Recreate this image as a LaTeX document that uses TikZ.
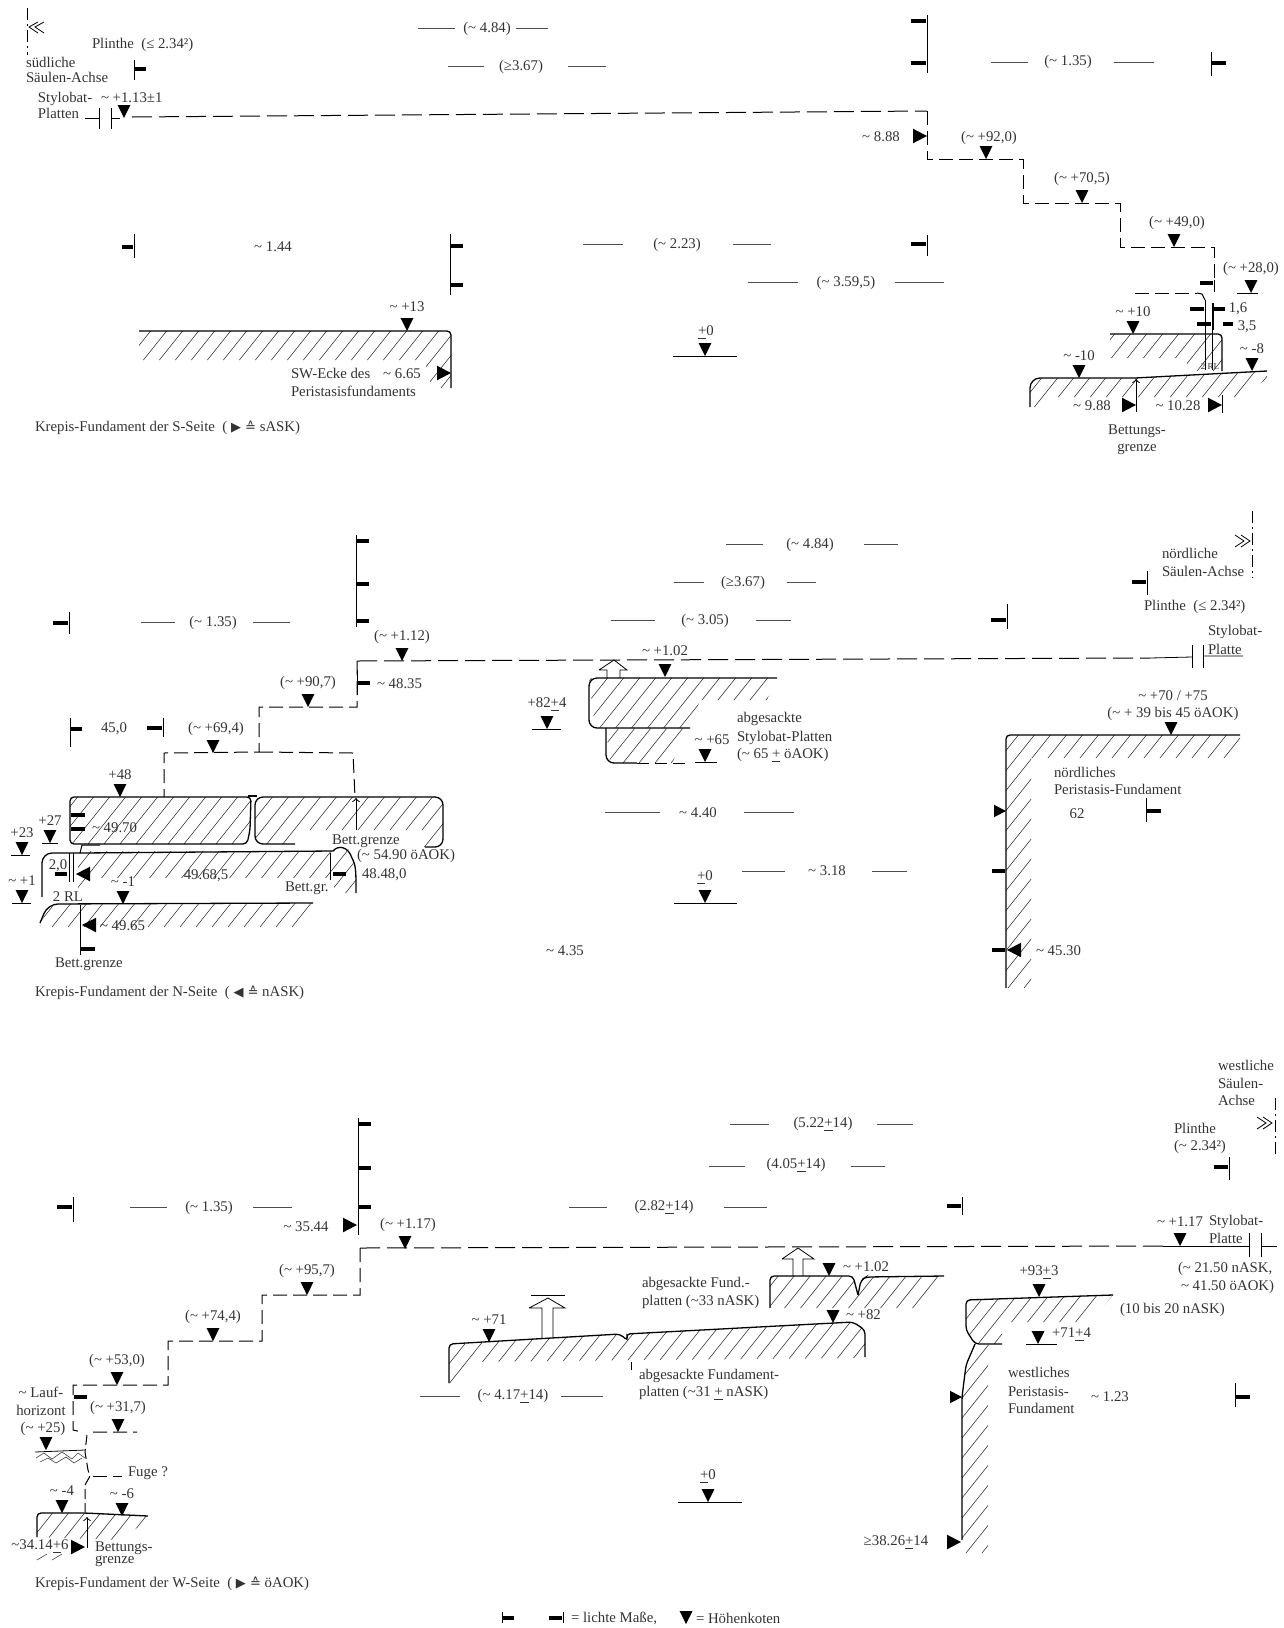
\documentclass[tikz,border=0pt]{standalone}
\usepackage{fontspec}
\setmainfont{Liberation Serif}
\newfontfamily\symb{DejaVu Sans}
\usepackage{tikz}
\usetikzlibrary{positioning,shapes.geometric,arrows}
\newcommand{\ca}{\textasciitilde\ }
\newcommand{\schraffur}[4]{%
  \begin{scope}
    \clip #1 -- cycle;
    \pgfmathsetmacro{\nxt}{#2+16}
    \foreach \s in {#2,\nxt,...,#3} \draw[schraffe] (\s,#4) -- ++(240,-300);
  \end{scope}}

\begin{document}
\begin{tikzpicture}[
  x=0.5pt,y=-0.5pt,
  node distance=2.5pt and 2.5pt,
  lbl/.style={inner sep=0pt,outer sep=0pt,yshift=-0.4pt,font=\fontsize{7.4}{8.5}\selectfont,text=black!80},
  lblw/.style={lbl,anchor=west},
  kote/.style={isosceles triangle,isosceles triangle apex angle=53,shape border rotate=-90,fill,inner sep=0pt,outer sep=0pt,minimum height=6.5pt,anchor=apex},
  gross/.style={isosceles triangle,isosceles triangle apex angle=55,fill,inner sep=0pt,outer sep=0pt,minimum height=7pt,anchor=apex},
  grossl/.style={gross,shape border rotate=180},
  tick/.style={line width=0.5pt},
  bar/.style={line width=1.6pt},
  kante/.style={line width=0.65pt,rounded corners=2pt},
  mass/.style={line width=0.4pt,black!70},
  schraffe/.style={line width=0.3pt,black!75},
  stufe/.style={line width=0.5pt,dash pattern=on 7pt off 3pt},
  fuge/.style={line width=0.5pt,dash pattern=on 10pt off 3.5pt},
  achse/.style={line width=0.4pt,dash pattern=on 6pt off 2pt on 1pt off 2pt}
]
\useasboundingbox (0,0) rectangle (1284,1628);

\draw[achse] (27,8) -- (27,55);
\draw (38,22) -- (29,27) -- (38,33) (44,22) -- (35,27) -- (44,33);
\node[lblw] (ts1) at (92,44) {Plinthe\ \ (≤ 2.34²)};
\node[lblw] (ts2) at (26,62) {südliche};
\node[lblw] (ts3) at (26,77) {Säulen-Achse};
\node[lblw] (ts4) at (38,98) {Stylobat-};
\node[lblw] (ts5) at (38,113) {Platten};
\node[lblw] (ts6) at (101,97) {\ca +1.13±1};
\node[kote] (ks1) at (124,118) {};
\draw (85,118) -- (99,118) (111,118) -- (120,118);
\draw[tick] (99,108) -- (99,129) (111,108) -- (111,129);

\draw[fuge] (132,117) -- (927,111);
\draw[stufe] (927,111) -- (927,159) -- (1023,159) -- (1023,203) -- (1120,203) -- (1120,247) -- (1214,247) -- (1214,292) (1135,293) -- (1197,293);
\draw[line width=0.5pt] (1197,293) -- (1202,294) -- (1205,300);

\node[lbl] (ts7) at (487,28) {(\ca 4.84)};
\node[lbl] (ts8) at (521,66) {(≥3.67)};
\node[lbl] (ts9) at (1068,61) {(\ca 1.35)};
\node[lbl] (ts10) at (677,244) {(\ca 2.23)};
\node[lbl] (ts11) at (846,282) {(\ca 3.59,5)};
\node[lbl] (ts12) at (273,246) {\ca 1.44};
\draw[mass] (418,28) -- (455,28) (516,28) -- (548,28) (448,66) -- (484,66) (568,66) -- (606,66)
  (991,62) -- (1028,62) (1114,62) -- (1154,62) (583,244) -- (623,244) (733,244) -- (771,244)
  (748,282) -- (798,282) (895,282) -- (944,282);

\draw[tick] (927,15) -- (927,73) (1211,52) -- (1211,76) (134,60) -- (134,80) (134,234) -- (134,258)
  (450,234) -- (450,295) (927,235) -- (927,256) (1214,280) -- (1214,292);
\draw[bar] (926,21) -- (911,21) (926,63) -- (911,63) (1212,63) -- (1226,63) (135,69) -- (146,69)
  (133,247) -- (122,247) (451,246) -- (463,246) (451,285) -- (463,285) (926,244) -- (911,244)
  (1213,283) -- (1200,283);

\node[lbl] (ts13) at (881,136) {\ca 8.88};
\node[gross] (gs1) at (927,136) {};
\node[kote] (ks2) at (986,159) {};
\node[lbl,above=of ks2,xshift=1.5pt,yshift=-1.5pt] (ls2) {(\ca +92,0)};
\node[kote] (ks3) at (1082,203) {};
\node[lbl,above=of ks3] (ls3) {(\ca +70,5)};
\node[kote] (ks4) at (1174,247) {};
\node[lbl,above=of ks4,xshift=1.5pt] (ls4) {(\ca +49,0)};
\node[kote] (ks5) at (1251,293) {};
\node[lbl,above=of ks5] (ls5) {(\ca +28,0)};
\draw (1237,293) -- (1258,293);

\schraffur{(139,331) -- (447,331) -- (451,335) -- (451,388) -- (432,388) -- (424,360) -- (139,360)}{105}{451}{388}
\draw[kante] (139,331) -- (451,331) -- (451,388);
\node[kote] (ks6) at (407,331) {};
\node[lbl,above=of ks6,yshift=1pt] (ls6) {\ca +13};
\node[lblw] (ts14) at (291,373) {SW-Ecke des};
\node[lbl] (ts15) at (402,373) {\ca 6.65};
\node[lblw] (ts16) at (291,391) {Peristasisfundaments};
\node[gross] (gs2) at (451,373) {};
\node[lblw] (ts17) at (35,427) {Krepis-Fundament der S-Seite\ \ ( {\symb\fontsize{6.5}{7}\selectfont ▶ ≙} sASK)};

\node[lbl] (ts18) at (706,332) {\underline{+}0};
\node[kote] (ks7) at (705,356) {};
\draw (673,356) -- (737,356);

\schraffur{(1110,334) -- (1218,334) -- (1222,338) -- (1222,371) -- (1190,371) -- (1185,358) -- (1110,358)}{1085}{1222}{371}
\draw[kante] (1110,334) -- (1222,334) -- (1222,371);
\schraffur{(1030,407) -- (1030,385) -- (1040,378) -- (1135,378) -- (1267,371) -- (1267,378) -- (1245,397) -- (1050,397) -- (1040,407)}{1000}{1267}{410}
\draw[kante,rounded corners=5pt] (1030,407) -- (1030,378) -- (1135,378);
\draw[line width=0.65pt] (1135,378) -- (1267,371);
\draw[tick] (1205,300) -- (1205,370) (1212,303) -- (1212,370) (1213,303) -- (1213,330);
\draw[bar] (1190,309) -- (1204,309) (1214,309) -- (1225,309) (1197,324) -- (1211,324) (1223,324) -- (1233,324);
\node[lbl] (ts19) at (1238,308) {1,6};
\node[lbl] (ts20) at (1247,326) {3,5};
\node[lbl,font=\fontsize{4.5}{5}\selectfont] (ts21) at (1210,366) {2 RL};
\node[kote] (ks8) at (1133,334) {};
\node[lbl,above=of ks8] (ls8) {\ca +10};
\node[kote] (ks9) at (1079,378) {};
\node[lbl,above=of ks9] (ls9) {\ca -10};
\node[kote] (ks10) at (1252,371) {};
\node[lbl,above=of ks10] (ls10) {\ca -8};
\draw[tick,->] (1136,412) -- (1136,379);
\draw[tick] (1222,395) -- (1222,413);
\node[lbl] (ts22) at (1092,405) {\ca 9.88};
\node[gross] (gs3) at (1136,405) {};
\node[lbl] (ts23) at (1178,405) {\ca 10.28};
\node[gross] (gs4) at (1222,405) {};
\node[lbl] (ts24) at (1137,430) {Bettungs-};
\node[lbl] (ts25) at (1137,448) {grenze};

\draw[tick] (356,535) -- (356,627) (69,612) -- (69,634) (1007,604) -- (1007,629) (1147,571) -- (1147,595);
\draw[bar] (357,541) -- (369,541) (357,584) -- (369,584) (357,621) -- (369,621) (68,623) -- (53,623)
  (1006,620) -- (991,620) (1146,582) -- (1132,582);
\node[lbl] (tn1) at (213,622) {(\ca 1.35)};
\node[lbl] (tn2) at (810,544) {(\ca 4.84)};
\node[lbl] (tn3) at (743,582) {(≥3.67)};
\node[lbl] (tn4) at (705,620) {(\ca 3.05)};
\draw[mass] (141,622) -- (175,622) (253,622) -- (290,622) (726,544) -- (763,544) (864,544) -- (898,544)
  (674,582) -- (704,582) (787,582) -- (816,582) (611,620) -- (655,620) (756,620) -- (791,620)
  (605,812) -- (660,812) (744,812) -- (794,812) (742,871) -- (785,871) (872,871) -- (907,871);

\draw[achse] (1252,511) -- (1252,578);
\draw (1235,535) -- (1244,541) -- (1235,547) (1241,535) -- (1250,541) -- (1241,547);
\node[lblw] (tn5) at (1162,553) {nördliche};
\node[lblw] (tn6) at (1162,571) {Säulen-Achse};
\node[lblw] (tn7) at (1144,606) {Plinthe\ \ (≤ 2.34²)};
\node[lblw] (tn8) at (1208,631) {Stylobat-};
\node[lblw] (tn9) at (1208,649) {Platte};

\draw[fuge] (357,661) -- (1150,658);
\draw (1150,658) -- (1192,657) (1203,656) -- (1243,656);
\draw[tick] (1192,645) -- (1192,668) (1203,645) -- (1203,668);
\draw[stufe] (357,661) -- (357,707) -- (259,707) -- (259,752) -- (164,753) -- (164,797) (259,752) -- (353,753) -- (355,797);
\node[kote] (kn1) at (402,661) {};
\node[lbl,above=of kn1] (ln1) {(\ca +1.12)};
\node[kote] (kn2) at (308,707) {};
\node[lbl,above=of kn2] (ln2) {(\ca +90,7)};
\node[kote] (kn3) at (213,753) {};
\node[lbl,above=of kn3,xshift=1.5pt] (ln3) {(\ca +69,4)};
\draw[tick] (357,670) -- (357,695) (70,718) -- (70,747) (163,718) -- (163,737);
\draw[bar] (358,683) -- (370,683) (71,729) -- (82,729) (162,728) -- (147,728);
\node[lblw] (tn10) at (377,683) {\ca 48.35};
\node[lbl] (tn11) at (114,728) {45,0};

\schraffur{(70,797) -- (248,797) -- (251,802) -- (250,830) -- (247,844) -- (70,844)}{40}{251}{844}
\schraffur{(255,805) -- (262,797) -- (437,797) -- (443,805) -- (443,840) -- (436,847) -- (415,847) -- (425,830) -- (300,830) -- (295,844) -- (262,844) -- (255,838)}{230}{443}{850}
\draw[kante] (70,844) -- (70,797) -- (251,797) -- (250,830) -- (247,844) -- cycle;
\draw[kante,rounded corners=4pt] (295,844) -- (255,844) -- (255,797) -- (443,797) -- (443,847) -- (425,847);
\draw[line width=0.65pt] (248,796) -- (257,796);
\schraffur{(78,851) -- (333,851) -- (340,847) -- (350,850) -- (356,873) -- (356,893) -- (338,893) -- (328,878) -- (100,878) -- (85,890) -- (78,890)}{40}{356}{895}
\draw[kante,rounded corners=5pt] (42,897) -- (42,853) -- (80,853);
\draw[line width=0.65pt] (80,853) -- (333,851) .. controls (338,845) and (348,846) .. (352,858) .. controls (356,866) and (356,870) .. (356,893);
\draw[tick] (80,853) -- (82,845) -- (100,845);
\schraffur{(40,923) -- (50,907) -- (60,904) -- (313,903) -- (300,927) -- (40,927)}{20}{313}{927}
\draw[kante,rounded corners=5pt] (40,923) -- (48,904) -- (313,903);

\node[kote] (kn4) at (120,797) {};
\node[lbl,above=of kn4] (ln4) {+48};
\node[kote] (kn5) at (50,843) {};
\node[lbl,above=of kn5] (ln5) {+27};
\node[kote] (kn6) at (22,855) {};
\node[lbl,above=of kn6] (ln6) {+23};
\node[kote] (kn7) at (22,903) {};
\node[lbl,above=of kn7] (ln7) {\ca +1};
\node[kote] (kn8) at (123,904) {};
\node[lbl,above=of kn8] (ln8) {\ca -1};
\draw (42,843) -- (58,843) (11,855) -- (30,855) (12,903) -- (31,903);

\draw[bar] (71,815) -- (85,815) (71,829) -- (85,829) (55,874) -- (67,874) (333,874) -- (346,874) (81,949) -- (95,949);
\draw[tick] (69,853) -- (69,882) (73,853) -- (73,882) (330,853) -- (330,880) (80,905) -- (80,955);
\draw[tick,->] (356,830) -- (356,798);
\node[lblw] (tn12) at (92,827) {\ca 49.70};
\node[lbl] (tn13) at (58,865) {2,0};
\node[grossl] (gn1) at (76,874) {};
\node[lbl] (tn14) at (206,875) {49.68,5};
\node[lbl] (tn15) at (68,896) {2 RL};
\node[lblw] (tn16) at (285,887) {Bett.gr.};
\node[lblw] (tn17) at (362,874) {48.48,0};
\node[lblw] (tn18) at (332,840) {Bett.grenze};
\node[lblw] (tn19) at (357,855) {(\ca 54.90 öAOK)};
\node[grossl] (gn2) at (82,925) {};
\node[lblw] (tn20) at (100,925) {\ca 49.65};
\node[lblw] (tn21) at (55,963) {Bett.grenze};
\node[lblw] (tn22) at (35,992) {Krepis-Fundament der N-Seite\ \ ( {\symb\fontsize{6.5}{7}\selectfont ◀ ≙} nASK)};

\draw (599,670) -- (614,660) -- (627,670) -- (620,670) -- (620,678) (607,678) -- (607,670) -- (599,670);
\schraffur{(589,678) -- (777,678) -- (767,700) -- (700,700) -- (690,728) -- (595,728)}{550}{777}{730}
\draw[kante,rounded corners=4pt] (777,678) -- (589,678) -- (589,728) -- (690,728);
\schraffur{(606,728) -- (690,728) -- (672,763) -- (610,763)}{575}{690}{763}
\draw[kante,rounded corners=4pt] (606,728) -- (606,763) -- (637,763);
\draw[dash pattern=on 6pt off 3pt] (637,763) -- (690,763);
\draw (695,762) -- (717,762);
\node[kote] (kn9) at (665,677) {};
\node[lbl,above=of kn9,yshift=2pt] (ln9) {\ca +1.02};
\node[kote] (kn10) at (705,762) {};
\node[lbl] (tn23) at (712,739) {\ca +65};
\node[kote] (kn11) at (547,729) {};
\node[lbl,above=of kn11] (ln11) {+82\underline{+}4};
\draw (532,729) -- (561,729);
\node[lblw] (tn24) at (737,718) {abgesackte};
\node[lblw] (tn25) at (737,737) {Stylobat-Platten};
\node[lblw] (tn26) at (737,755) {(\ca 65 \underline{+} öAOK)};

\node[lbl] (tn27) at (698,812) {\ca 4.40};
\node[lbl] (tn28) at (827,870) {\ca 3.18};
\node[lbl] (tn29) at (565,950) {\ca 4.35};
\node[lbl] (tn30) at (705,877) {\underline{+}0};
\node[kote] (kn12) at (705,903) {};
\draw (674,903) -- (737,903);

\schraffur{(1006,735) -- (1240,735) -- (1240,745) -- (1228,758) -- (1031,758) -- (1031,988) -- (1006,988)}{800}{1240}{988}
\draw[kante] (1240,735) -- (1006,735) -- (1006,988);
\node[gross,minimum height=6pt] (gn3) at (1006,811) {};
\draw[bar] (1005,871) -- (992,871) (1005,950) -- (992,950);
\node[grossl] (gn4) at (1007,950) {};
\node[lblw] (tn31) at (1036,950) {\ca 45.30};
\node[kote] (kn13) at (1171,735) {};
\node[lbl] (tn32) at (1173,695) {\ca +70 / +75};
\node[lbl] (tn33) at (1173,713) {(\ca + 39 bis 45 öAOK)};
\node[lblw] (tn34) at (1054,772) {nördliches};
\node[lblw] (tn35) at (1054,789) {Peristasis-Fundament};
\node[lbl] (tn36) at (1077,813) {62};
\draw[tick] (1146,798) -- (1146,822);
\draw[bar] (1147,811) -- (1161,811);

\draw[tick] (358,1118) -- (358,1235) (73,1197) -- (73,1222) (962,1197) -- (962,1215) (1229,1157) -- (1229,1180);
\draw[bar] (359,1124) -- (371,1124) (359,1168) -- (371,1168) (359,1207) -- (371,1207) (72,1207) -- (57,1207)
  (961,1206) -- (947,1206) (1228,1167) -- (1214,1167);
\node[lbl] (tw1) at (209,1207) {(\ca 1.35)};
\node[lbl] (tw2) at (823,1124) {(5.22\underline{+}14)};
\node[lbl] (tw3) at (796,1165) {(4.05\underline{+}14)};
\node[lbl] (tw4) at (664,1207) {(2.82\underline{+}14)};
\node[lbl] (tw5) at (513,1396) {(\ca 4.17\underline{+}14)};
\draw[mass] (130,1207) -- (167,1207) (253,1207) -- (292,1207) (730,1124) -- (769,1124) (877,1124) -- (913,1124)
  (709,1166) -- (745,1166) (851,1166) -- (885,1166) (569,1207) -- (607,1207) (724,1207) -- (767,1207)
  (420,1396) -- (460,1396) (561,1396) -- (603,1396);

\node[lblw] (tw6) at (1218,1065) {westliche};
\node[lblw] (tw7) at (1218,1083) {Säulen-};
\node[lblw] (tw8) at (1218,1100) {Achse};
\draw[achse] (1275,1098) -- (1275,1157);
\draw (1257,1117) -- (1266,1123) -- (1257,1129) (1263,1117) -- (1272,1123) -- (1263,1129);
\node[lblw] (tw9) at (1174,1128) {Plinthe};
\node[lblw] (tw10) at (1174,1146) {(\ca 2.34²)};

\node[lbl] (tw11) at (306,1226) {\ca 35.44};
\node[gross] (gw1) at (357,1225) {};
\draw[fuge] (360,1248) -- (1163,1246);
\draw (1163,1246) -- (1249,1246) (1261,1246) -- (1277,1246);
\draw[tick] (1249,1233) -- (1249,1257) (1261,1233) -- (1261,1257);
\draw[stufe] (360,1248) -- (360,1295) -- (262,1295) -- (262,1341) -- (168,1341) -- (168,1385) -- (73,1385) -- (73,1430) -- (82,1432) (93,1432) -- (137,1432);
\draw[bar] (74,1397) -- (87,1397);
\node[kote] (kw1) at (405,1249) {};
\node[lbl,above=of kw1,xshift=1.5pt] (lw1) {(\ca +1.17)};
\node[kote] (kw2) at (307,1295) {};
\node[lbl,above=of kw2] (lw2) {(\ca +95,7)};
\node[kote] (kw3) at (213,1341) {};
\node[lbl,above=of kw3] (lw3) {(\ca +74,4)};
\node[kote] (kw4) at (117,1385) {};
\node[lbl,above=of kw4] (lw4) {(\ca +53,0)};
\node[kote] (kw5) at (118,1432) {};
\node[lbl,above=of kw5] (lw5) {(\ca +31,7)};
\node[lbl] (tw12) at (41,1392) {\ca Lauf-};
\node[lbl] (tw13) at (41,1410) {horizont};
\node[lbl] (tw14) at (43,1428) {(\ca +25)};
\node[kote] (kw6) at (46,1450) {};
\draw (35,1452) -- (85,1450);
\draw[schraffe] (36,1458) -- (44,1453) -- (52,1459) -- (62,1452) -- (72,1459) -- (78,1453) -- (85,1458)
  (40,1462) -- (48,1458) -- (56,1463) -- (66,1457) -- (74,1463) -- (82,1458);
\draw[stufe,dash pattern=on 5pt off 2pt] (87,1435) -- (85,1452) -- (88,1470) -- (90,1476) -- (85,1485) -- (85,1512);
\draw[stufe] (93,1476) -- (122,1476);
\node[lblw] (tw15) at (128,1472) {Fuge ?};

\schraffur{(37,1537) -- (37,1525) -- (40,1513) -- (85,1513) -- (148,1516) -- (148,1520) -- (120,1540) -- (37,1537)}{15}{148}{1540}
\draw[kante] (37,1537) -- (37,1513) -- (85,1513) -- (148,1516);
\draw[schraffe] (37,1560) -- (47,1554) (52,1560) -- (62,1554);
\draw[tick,->] (87,1548) -- (87,1517);
\node[kote] (kw7) at (62,1513) {};
\node[lbl,above=of kw7] (lw7) {\ca -4};
\node[kote] (kw8) at (122,1516) {};
\node[lbl,above=of kw8] (lw8) {\ca -6};
\node[lbl] (tw16) at (40,1546) {\textasciitilde 34.14\underline{+}6};
\node[gross] (gw2) at (85,1547) {};
\node[lblw] (tw17) at (95,1547) {Bettungs-};
\node[lblw] (tw18) at (95,1560) {grenze};
\node[lblw] (tw19) at (35,1583) {Krepis-Fundament der W-Seite\ \ ( {\symb\fontsize{6.5}{7}\selectfont ▶ ≙} öAOK)};

\draw (782,1259) -- (798,1248) -- (814,1259) -- (803,1259) -- (803,1276) (793,1276) -- (793,1259) -- (782,1259);
\schraffur{(770,1308) -- (770,1282) -- (775,1276) -- (853,1276) -- (858,1295) -- (861,1285) -- (866,1277) -- (944,1276) -- (925,1308)}{735}{944}{1310}
\draw[kante] (770,1308) -- (770,1276) -- (853,1276) -- (858,1295) (858,1295) -- (861,1280) -- (866,1277) -- (944,1276);
\node[kote] (kw9) at (829,1276) {};
\node[lblw] (tw20) at (843,1266) {\ca +1.02};
\node[lblw] (tw21) at (642,1283) {abgesackte Fund.-};
\node[lblw] (tw22) at (642,1301) {platten (\textasciitilde 33 nASK)};

\draw (531,1295) -- (565,1295);
\draw (529,1308) -- (548,1298) -- (565,1308) -- (553,1308) -- (553,1338) (542,1338) -- (542,1308) -- (529,1308);
\schraffur{(449,1345) -- (620,1334) -- (853,1322) -- (865,1330) -- (865,1358) -- (640,1360) -- (470,1362) -- (465,1383) -- (449,1383)}{400}{865}{1385}
\draw[kante] (449,1383) -- (449,1344) -- (620,1334) -- (628,1341) -- (626,1334) -- (853,1322) -- (865,1330) -- (865,1357);
\draw[tick] (631,1362) -- (631,1370);
\node[kote] (kw10) at (489,1342) {};
\node[lbl,above=of kw10] (lw10) {\ca +71};
\node[kote] (kw11) at (833,1323) {};
\node[lblw] (tw23) at (846,1314) {\ca +82};
\node[lblw] (tw24) at (639,1375) {abgesackte Fundament-};
\node[lblw] (tw25) at (639,1393) {platten (\textasciitilde 31 \underline{+} nASK)};

\schraffur{(966,1300) -- (1113,1295) -- (1090,1322) -- (1002,1322) -- (1002,1344) -- (975,1344) -- (966,1330)}{930}{1113}{1344}
\schraffur{(975,1345) -- (1002,1345) -- (988,1365) -- (988,1553) -- (962,1553) -- (962,1397) -- (966,1365)}{790}{1005}{1553}
\draw[kante] (1113,1295) -- (966,1300) -- (966,1330) -- (975,1344) -- (1002,1344) (975,1344) -- (966,1365) -- (962,1397) -- (962,1540);
\node[kote] (kw12) at (1039,1297) {};
\node[lbl,above=of kw12] (lw12) {+93\underline{+}3};
\node[lblw] (tw26) at (1120,1309) {(10 bis 20 nASK)};
\node[kote] (kw13) at (1038,1344) {};
\draw (1026,1344) -- (1057,1344);
\node[lblw] (tw27) at (1052,1334) {+71\underline{+}4};
\node[lblw] (tw28) at (1008,1372) {westliches};
\node[lblw] (tw29) at (1008,1391) {Peristasis-};
\node[lblw] (tw30) at (1008,1408) {Fundament};
\node[lbl] (tw31) at (1110,1396) {\ca 1.23};
\draw[tick] (1235,1383) -- (1235,1407);
\draw[bar] (1236,1397) -- (1250,1397);
\node[gross,minimum height=6pt] (gw3) at (962,1397) {};
\node[lbl] (tw32) at (708,1476) {\underline{+}0};
\node[kote] (kw14) at (708,1502) {};
\draw (678,1502) -- (742,1502);
\node[lbl] (tw33) at (896,1542) {≥38.26\underline{+}14};
\node[gross] (gw4) at (961,1542) {};

\node[lblw] (tw34) at (1178,1268) {(\ca 21.50 nASK,};
\node[lblw] (tw35) at (1181,1286) {\ca 41.50 öAOK)};
\node[lbl] (tw36) at (1180,1221) {\ca +1.17};
\node[lblw] (tw37) at (1209,1221) {Stylobat-};
\node[lblw] (tw38) at (1209,1238) {Platte};
\node[kote] (kw15) at (1180,1246) {};

\draw[tick] (502,1612) -- (502,1623) (563,1612) -- (563,1623);
\draw[bar] (503,1618) -- (514,1618) (562,1618) -- (549,1618);
\node[lblw] (tl1) at (571,1618) {= lichte Maße,};
\node[kote] (kl1) at (686,1624) {};
\node[lblw] (tl2) at (696,1618) {= Höhenkoten};
\end{tikzpicture}
\end{document}
